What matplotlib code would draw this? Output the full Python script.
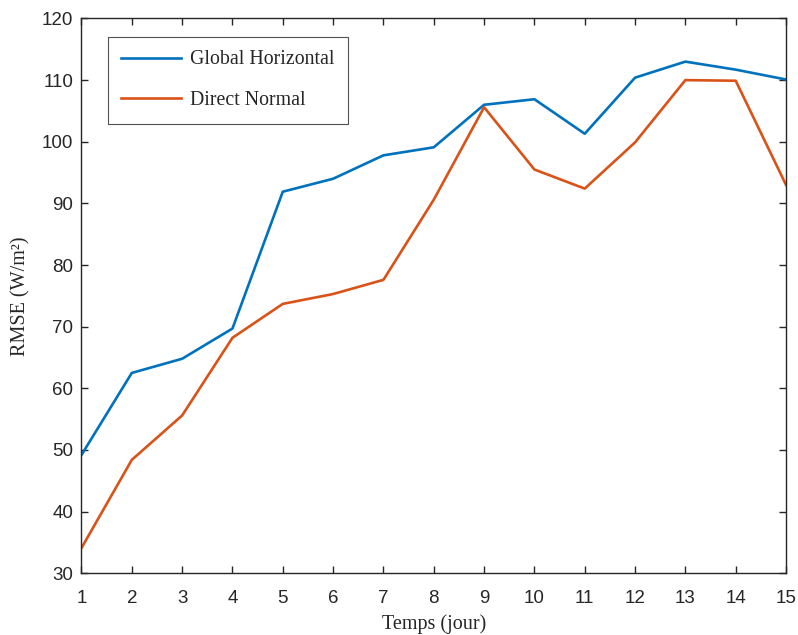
import matplotlib
matplotlib.use("Agg")
import matplotlib.pyplot as plt

# ── Data ─────────────────────────────────────────────────────────────────────
days = [1, 2, 3, 4, 5, 6, 7, 8, 9, 10, 11, 12, 13, 14, 15]
global_horizontal = [49.2, 62.5, 64.8, 69.7, 91.9, 94.0, 97.8, 99.1,
                     106.0, 106.9, 101.3, 110.4, 113.0, 111.7, 110.1]
direct_normal = [34.1, 48.4, 55.6, 68.2, 73.7, 75.3, 77.6, 90.6,
                 105.6, 95.5, 92.4, 99.9, 110.0, 109.9, 93.0]

BLUE = "#0072BD"
ORANGE = "#D95319"
INK = "#262626"

fig = plt.figure(figsize=(7.98, 6.35), dpi=100, facecolor="white")
ax = fig.add_axes([0.1021, 0.0972, 0.8829, 0.8737])

ax.plot(days, global_horizontal, color=BLUE, lw=1.9, label="Global Horizontal")
ax.plot(days, direct_normal, color=ORANGE, lw=1.9, label="Direct Normal")

ax.set_xlim(1, 15)
ax.set_ylim(30, 120)
ax.set_xticks(days)
ax.set_yticks(range(30, 121, 10))

for s in ax.spines.values():
    s.set_color(INK)
    s.set_linewidth(1.0)
ax.tick_params(direction="in", length=5, width=1.0, color=INK,
               top=True, right=True, labelsize=13.5, labelcolor=INK)
ax.tick_params(axis="x", pad=12)
ax.tick_params(axis="y", pad=6)
for lab in ax.get_xticklabels() + ax.get_yticklabels():
    lab.set_fontfamily("Liberation Sans")

ax.set_xlabel("Temps (jour)", fontsize=14.5, fontfamily="Liberation Serif",
              color=INK, labelpad=5)
ax.set_ylabel("RMSE (W/m²)", fontsize=14.5, fontfamily="Liberation Serif",
              color=INK, labelpad=8)

leg = ax.legend(loc="upper left", bbox_to_anchor=(0.0376, 0.9667),
                borderaxespad=0,
                prop={"family": "Liberation Serif", "size": 14.3},
                frameon=True, fancybox=False, handlelength=3.0,
                borderpad=0.68, labelspacing=1.1, handletextpad=0.45)
leg.get_frame().set_edgecolor(INK)
leg.get_frame().set_linewidth(0.8)
for t in leg.get_texts():
    t.set_color(INK)

fig.savefig("out.png", dpi=100, facecolor="white")
